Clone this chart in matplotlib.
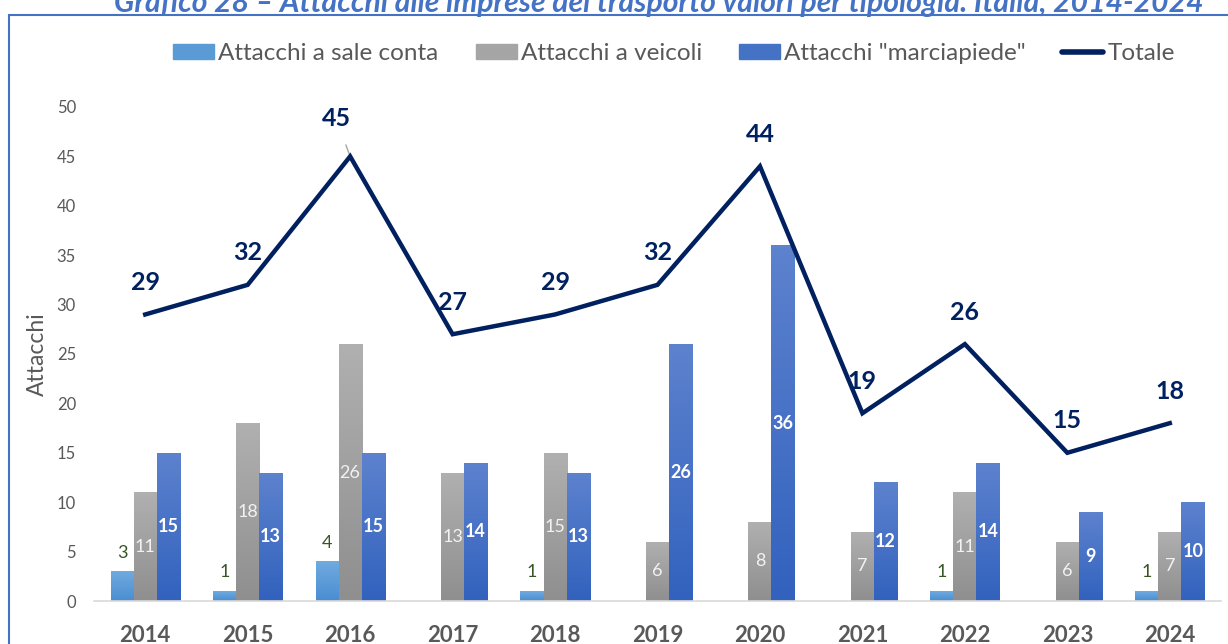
import numpy as np
import matplotlib.pyplot as plt
from matplotlib.patches import Patch, Rectangle
from matplotlib.lines import Line2D
from matplotlib.colors import LinearSegmentedColormap

plt.rcParams['font.family'] = ['Lato', 'DejaVu Sans']

##################### data

anni = ['2014', '2015', '2016', '2017', '2018', '2019', '2020', '2021', '2022', '2023', '2024']
sale_conta = [3, 1, 4, 0, 1, 0, 0, 0, 1, 0, 1]
veicoli = [11, 18, 26, 13, 15, 6, 8, 7, 11, 6, 7]
marciapiede = [15, 13, 15, 14, 13, 26, 36, 12, 14, 9, 10]
totale = [29, 32, 45, 27, 29, 32, 44, 19, 26, 15, 18]

titolo = 'Grafico 28 – Attacchi alle imprese del trasporto valori per tipologia. Italia, 2014-2024'

c_sale = '#5B9BD5'
c_veic = '#A5A5A5'
c_marc = '#4472C4'
c_tot = '#002060'
c_text = '#595959'

# gradient colours (bottom, top) for each series
grad_sale = ('#4A8DD2', '#70ABDF')
grad_veic = ('#8F8F8F', '#B0B0B0')
grad_marc = ('#3262BE', '#5D82CE')

##################### figure

fig = plt.figure(figsize=(12.28, 6.44), dpi=100)
ax = fig.add_axes([94/1228, 1 - 601/644, (1221-94)/1228, (601-107)/644])

# cornice blu
fig.patches.append(Rectangle((9/1228, -0.05), 1.1, 1 - 15/644 + 0.05, transform=fig.transFigure,
                             fill=False, edgecolor='#4472C4', lw=1.5))
fig.text(659/1228, 1 - 3/644, titolo, ha='center', va='center', fontsize=21.7, fontweight='bold',
         style='italic', color='#4472C4')

x = np.arange(len(anni))
w = 0.225


def gradient_bars(xpos, values, colors):
    cmap = LinearSegmentedColormap.from_list('g', colors)
    grad = np.linspace(0, 1, 100).reshape(-1, 1)
    bars = ax.bar(xpos, values, w, color=colors[0], zorder=1)
    for b, v in zip(bars, values):
        if v <= 0:
            continue
        x0 = b.get_x()
        im = ax.imshow(grad, cmap=cmap, origin='lower', aspect='auto',
                       extent=[x0, x0 + w, 0, v], zorder=1.5, interpolation='bilinear')
        im.set_clip_path(b)
    return bars


gradient_bars(x - w, sale_conta, grad_sale)
gradient_bars(x, veicoli, grad_veic)
gradient_bars(x + w, marciapiede, grad_marc)

for xi, v in zip(x, sale_conta):
    if v > 0:
        ax.text(xi - w, v + 1.9, str(v), ha='center', va='center', fontsize=13, color='#375623',
                zorder=3)
for xi, v in zip(x, veicoli):
    ax.text(xi, v / 2, str(v), ha='center', va='center', fontsize=13, color='#F2F2F2', zorder=3)
for xi, v in zip(x, marciapiede):
    ax.text(xi + w, v / 2, str(v), ha='center', va='center', fontsize=13, color='white',
            fontweight='bold', zorder=3)

ax.plot(x, totale, color=c_tot, lw=3.2, solid_joinstyle='miter', zorder=4)
for xi, v in zip(x, totale):
    if v == 45:
        ax.annotate(str(v), (xi, v), xytext=(-10, 27), textcoords='offset points',
                    ha='center', va='center', fontsize=18, fontweight='bold', color=c_tot,
                    arrowprops=dict(arrowstyle='-', color='#A6A6A6', lw=1.0, shrinkA=9, shrinkB=0))
    else:
        ax.annotate(str(v), (xi, v), xytext=(0, 23), textcoords='offset points',
                    ha='center', va='center', fontsize=18, fontweight='bold', color=c_tot, zorder=5)

ax.set_xlim(-0.5, len(anni) - 0.5)
ax.set_ylim(0, 50)
ax.set_yticks(range(0, 51, 5))
ax.set_xticks(x)
ax.set_xticklabels(anni, fontsize=16, fontweight='bold', color=c_text)
ax.tick_params(axis='y', labelsize=12, labelcolor=c_text, length=0, pad=13)
ax.tick_params(axis='x', length=0, pad=17)
ax.set_ylabel('Attacchi', fontsize=16.5, color=c_text, labelpad=6)

for s in ['top', 'right', 'left']:
    ax.spines[s].set_visible(False)
ax.spines['bottom'].set_color('#D9D9D9')
ax.spines['bottom'].set_linewidth(1.2)
ax.spines['bottom'].set_zorder(2)

handles = [Patch(color=c_sale), Patch(color=c_veic), Patch(color=c_marc),
           Line2D([], [], color=c_tot, lw=4, solid_capstyle='round')]
labels = ['Attacchi a sale conta', 'Attacchi a veicoli', 'Attacchi "marciapiede"', 'Totale']
fig.legend(handles, labels, loc='center', bbox_to_anchor=(674/1228, 1 - 54/644), ncol=4,
           frameon=False, fontsize=17.5, labelcolor=c_text, handlelength=1.69, handleheight=0.58,
           handletextpad=0.16, columnspacing=1.52)

fig.savefig('out.png', dpi=100)
